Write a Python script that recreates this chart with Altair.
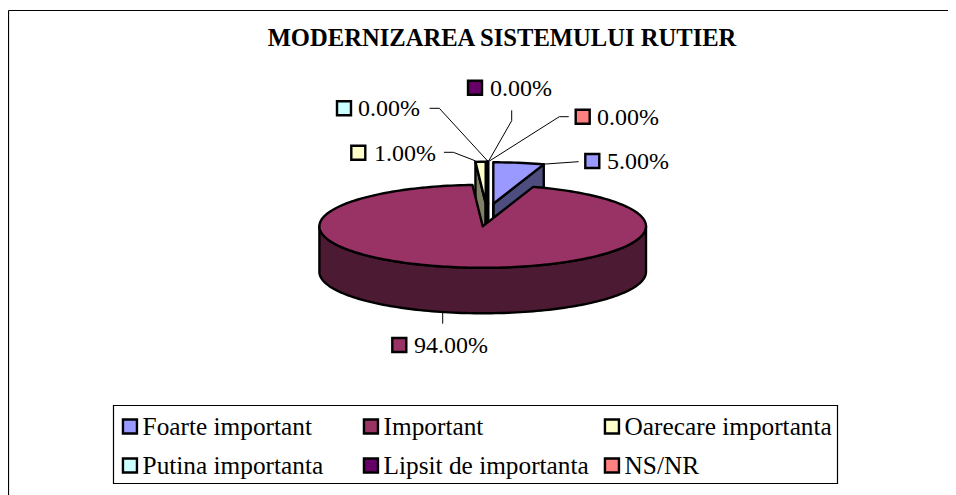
import math
import altair as alt
import pandas as pd

TITLE = "MODERNIZAREA SISTEMULUI RUTIER"
CATEGORIES = ["Foarte important", "Important", "Oarecare importanta",
              "Putina importanta", "Lipsit de importanta", "NS/NR"]
SHARES = [5.0, 94.0, 1.0, 0.0, 0.0, 0.0]
COLORS = ["#9999FF", "#993366", "#FFFFCC", "#CCFFFF", "#660066", "#FF8080"]
SIDE_COLORS = ["#4D4D80", "#4D1A33", "#808066", "#668080", "#330033", "#804040"]
# The legend fills column by column, so this order reads as the reference row by row
LEGEND_ORDER = [0, 3, 1, 4, 2, 5]

# layout (page pixels)
CX, CY, RX, RY, DEPTH = 482.7, 226.3, 163.3, 41.5, 45.5
EXPLODE = [(10.6, -22.5), (0, 0), (3.0, -23), (4.2, -23), (4.8, -23), (5.4, -23)]
LABEL_TEXT_X = [607, 414, 374, 358, 490, 597]
LABEL_SYMBOL_X = [592.3, 399.3, 358.3, 344, 475, 582.7]
LABEL_Y = [161, 345, 152.7, 108.3, 87.7, 116.7]
LEADERS = [
    [(541.7, 164.3), (578.3, 161.7)],
    [(442.7, 313.3), (442.7, 323.3)],
    [(475, 160.7), (453.3, 152.3), (444.3, 152.3)],
    [(488.3, 161.7), (439.3, 108.3), (430, 108.3)],
    [(488.3, 161.7), (511.7, 120.7), (511.7, 110.7)],
    [(488.3, 161.7), (559.3, 116.7), (568.3, 116.7)],
]
LEGEND_BOX = {"x": [113.5], "x2": [837.5], "y": [405.5], "y2": [483.5]}
W, H = 940, 487
SW = 2.4
X = alt.Scale(domain=[8, 948], range=[0, W])
Y = alt.Scale(domain=[8, 495], range=[0, H])
FILL = alt.Scale(domain=[CATEGORIES[i] for i in LEGEND_ORDER], range=[COLORS[i] for i in LEGEND_ORDER])
LEGEND = alt.Legend(
    title=None, orient="none", legendX=104, legendY=397, columns=3, gridAlign="all",
    symbolType="square", symbolSize=196, symbolStrokeColor="black", symbolStrokeWidth=SW,
    symbolOffset=-2.7,
    labelFont="Liberation Serif", labelFontSize=25.3, labelColor="black", labelLimit=300,
    labelOffset=0, columnPadding=11, rowPadding=12, padding=8, clipHeight=27,
    symbolOpacity=1,
)


def rim(cx, cy, a):
    r = math.radians(a)
    return (cx + RX * math.sin(r), cy - RY * math.cos(r))


def arc(cx, cy, a0, a1, dy=0.0):
    n = max(1, int(abs(a1 - a0) / 1.5))
    return [(rim(cx, cy, a0 + (a1 - a0) * i / n)[0], rim(cx, cy, a0 + (a1 - a0) * i / n)[1] + dy)
            for i in range(n + 1)]


def poly(points, category=None, fill=None, sw=SW):
    df = pd.DataFrame(points, columns=["x", "y"])
    df["i"] = range(len(df))
    kw = dict(stroke="black", strokeWidth=sw, strokeJoin="round", strokeCap="round")
    enc = dict(x=alt.X("x:Q", scale=X, axis=None), y=alt.Y("y:Q", scale=Y, axis=None), order="i:Q")
    if category is not None:
        df["c"] = category
        enc["fill"] = alt.Fill("c:N", scale=FILL, legend=LEGEND)
    elif fill is not None:
        kw["fill"] = fill
    return alt.Chart(df).mark_line(**kw).encode(**enc)


starts, total = [], 0.0
for s in SHARES:
    starts.append(total * 3.6)
    total += s


def exploded(k):
    a0, a1 = starts[k], starts[k] + SHARES[k] * 3.6
    ax, ay = CX + EXPLODE[k][0], CY + EXPLODE[k][1]
    top = [(ax, ay)] + arc(ax, ay, a0, a1) + [(ax, ay)]
    a_wall = a1 if a1 <= 180 else a0
    rx_, ry_ = rim(ax, ay, a_wall)
    return [
        poly([(ax, ay), (rx_, ry_), (rx_, ry_ + DEPTH), (ax, ay + DEPTH), (ax, ay)], fill=SIDE_COLORS[k]),
        poly([(ax, ay), (ax, ay + DEPTH)]),
        poly(top, category=CATEGORIES[k]),
    ]


layers = []
frame = pd.DataFrame({"x": [8.5, 8.5], "x2": [948, 8.5], "y": [10.5, 10.5], "y2": [10.5, 495]})
layers.append(alt.Chart(frame).mark_rule(color="black", strokeWidth=1.2).encode(
    x=alt.X("x:Q", scale=X, axis=None), x2="x2:Q", y=alt.Y("y:Q", scale=Y, axis=None), y2="y2:Q"))
layers.append(alt.Chart(pd.DataFrame(LEGEND_BOX)).mark_rect(fill="white", stroke="black", strokeWidth=1.2).encode(
    x=alt.X("x:Q", scale=X, axis=None), x2="x2:Q", y=alt.Y("y:Q", scale=Y, axis=None), y2="y2:Q"))

for k in [3, 4, 5, 2, 0]:
    layers += exploded(k)

a0, a1 = starts[1], starts[1] + SHARES[1] * 3.6
side = arc(CX, CY, 90, 270) + arc(CX, CY, 270, 90, dy=DEPTH)
side.append(side[0])
layers.append(poly(side, fill=SIDE_COLORS[1]))
top = [(CX, CY)] + arc(CX, CY, a0, a1) + [(CX, CY)]
layers.append(poly(top, category=CATEGORIES[1]))

for pts in LEADERS:
    layers.append(poly(pts, sw=1))

labels = pd.DataFrame({
    "c": CATEGORIES,
    "t": [f"{s:.2f}%" for s in SHARES],
    "tx": LABEL_TEXT_X, "sx": LABEL_SYMBOL_X, "y": LABEL_Y,
})
layers.append(alt.Chart(labels).mark_square(size=196, stroke="black", strokeWidth=SW, opacity=1).encode(
    x=alt.X("sx:Q", scale=X, axis=None), y=alt.Y("y:Q", scale=Y, axis=None),
    fill=alt.Fill("c:N", scale=FILL, legend=LEGEND)))
layers.append(alt.Chart(labels).mark_text(
    font="Liberation Serif", fontSize=24, align="left", baseline="middle", color="black", dy=1).encode(
    x=alt.X("tx:Q", scale=X, axis=None), y=alt.Y("y:Q", scale=Y, axis=None), text="t:N"))

chart = alt.layer(*layers).properties(
    width=W, height=H, padding=0, autosize=alt.AutoSizeParams(type="none"),
    background="white",
    title=alt.TitleParams(TITLE, font="Liberation Serif", fontSize=24.6, fontWeight="bold", color="black",
                          anchor="middle", dx=24, dy=63, offset=0, baseline="alphabetic"),
).configure_view(stroke=None)

chart.save("out.html", embed_options={"renderer": "svg", "actions": False})
